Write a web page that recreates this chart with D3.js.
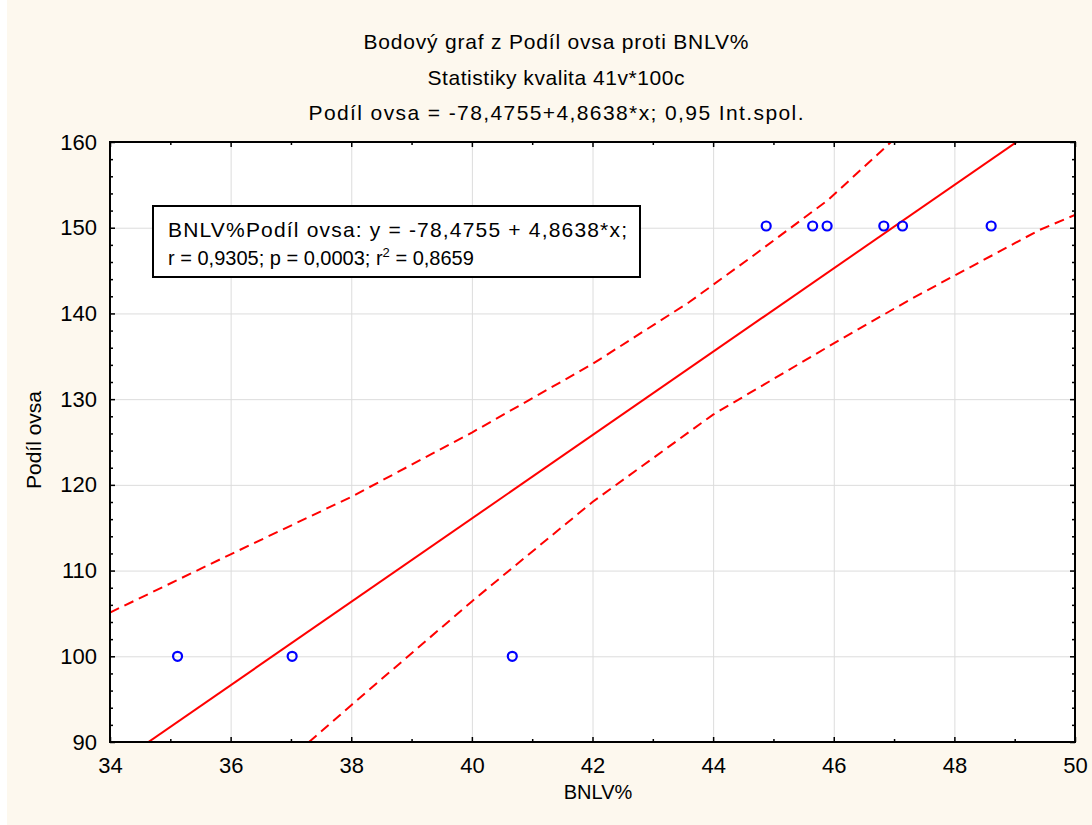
<!DOCTYPE html>
<html>
<meta charset="utf-8">
<head>
<title>Bodový graf z Podíl ovsa proti BNLV%</title>
<script src="https://cdn.jsdelivr.net/npm/d3@7/dist/d3.min.js"></script>
<style>
body { margin: 0; background: #fff; }
text { font-family: "Liberation Sans", Arial, sans-serif; fill: #000; }
.grid line { stroke: #dcdcdc; stroke-width: 1; }
.grid path { display: none; }
.ax path { display: none; }
.ax line { stroke: #000; stroke-width: 1.5; }
</style>
</head>
<body>
<div id="graf"></div>
<script>
// body (x = BNLV%, y = Podíl ovsa)
var bnlv = [35.12, 37.02, 40.67, 44.88, 45.65, 45.89, 46.83, 47.14, 48.61];
var podilOvsa = [100, 100, 100, 150.2, 150.2, 150.2, 150.2, 150.2, 150.2];

// regresni primka y = a + b*x
var koef = [-78.4755, 4.8638];

// 0,95 interval spolehlivosti
var horniX = [34, 36, 38, 40, 42, 43.6, 44.6, 45.9, 46.95];
var horniY = [105.1, 111.9, 118.6, 126.1, 134.1, 141.3, 146.4, 153.2, 160];
var dolniX = [37.3, 38, 40, 40.6, 42, 44, 46, 47.26, 48, 49.4, 50];
var dolniY = [90, 94.3, 106.4, 109.9, 118.0, 128.2, 136.5, 141.6, 144.4, 149.7, 151.5];

var xTicks = [34, 36, 38, 40, 42, 44, 46, 48, 50];
var yTicks = [90, 100, 110, 120, 130, 140, 150, 160];
var xMinor = [35, 37, 39, 41, 43, 45, 47, 49];
var yMinor = [92, 94, 96, 98, 102, 104, 106, 108, 112, 114, 116, 118, 122, 124, 126, 128,
              132, 134, 136, 138, 142, 144, 146, 148, 152, 154, 156, 158];

var nadpis = ["Bodový graf z Podíl ovsa proti BNLV%",
              "Statistiky kvalita 41v*100c",
              "Podíl ovsa = -78,4755+4,8638*x; 0,95 Int.spol."];
var nadpisSirka = [385, 257, 495];
var legenda = ["BNLV%Podíl ovsa:   y = -78,4755 + 4,8638*x;", "r = 0,9305; p = 0,0003; r", "2", " = 0,8659"];

var W = 1092, H = 825;
var margin = {top: 142, right: 17, bottom: 83, left: 110},
    width = W - margin.left - margin.right,
    height = H - margin.top - margin.bottom;

var svg = d3.select("#graf").append("svg")
    .attr("width", W)
    .attr("height", H);

// pozadi
svg.append("rect").attr("x", 7).attr("y", 0).attr("width", W - 7).attr("height", H).attr("fill", "#fdf8ee");

var g = svg.append("g")
    .attr("transform", "translate(" + margin.left + "," + margin.top + ")");

var x = d3.scaleLinear().domain([34, 50]).range([0, width]);
var y = d3.scaleLinear().domain([90, 160]).range([height, 0]);

g.append("rect").attr("width", width).attr("height", height).attr("fill", "#fff");

g.append("clipPath").attr("id", "clip")
  .append("rect").attr("width", width).attr("height", height);

// mrizka
g.append("g").attr("class", "grid")
    .attr("transform", "translate(0," + height + ")")
    .call(d3.axisBottom(x).tickValues(xTicks.slice(1, -1)).tickSize(-height).tickFormat(""));
g.append("g").attr("class", "grid")
    .call(d3.axisLeft(y).tickValues(yTicks.slice(1, -1)).tickSize(-width).tickFormat(""));

var plocha = g.append("g").attr("clip-path", "url(#clip)");

// interval spolehlivosti
var cara = d3.line().x(function(d) { return x(d[0]); }).y(function(d) { return y(d[1]); });
[[horniX, horniY], [dolniX, dolniY]].forEach(function(p) {
  plocha.append("path")
      .datum(p[0].map(function(v, i) { return [v, p[1][i]]; }))
      .attr("fill", "none")
      .attr("stroke", "#ff0000")
      .attr("stroke-width", 2)
      .attr("stroke-dasharray", "10,6")
      .attr("d", cara);
});

// regresni primka
plocha.append("path")
    .datum(x.domain().map(function(v) { return [v, koef[0] + koef[1] * v]; }))
    .attr("fill", "none")
    .attr("stroke", "#ff0000")
    .attr("stroke-width", 2)
    .attr("d", cara);

// body
g.selectAll(".bod")
    .data(bnlv)
  .enter().append("circle")
    .attr("class", "bod")
    .attr("cx", function(d) { return x(d); })
    .attr("cy", function(d, i) { return y(podilOvsa[i]); })
    .attr("r", 4.5)
    .attr("fill", "none")
    .attr("stroke", "#0000ff")
    .attr("stroke-width", 2.2);

// osy
var fs = 21;
var osaX = g.append("g").attr("class", "ax")
    .attr("transform", "translate(0," + height + ")")
    .call(d3.axisBottom(x).tickValues(xTicks).tickSize(-5).tickPadding(15).tickFormat(d3.format("d")));
osaX.selectAll("text").style("font-size", "22px");
g.append("g").attr("class", "ax")
    .attr("transform", "translate(0," + height + ")")
    .call(d3.axisBottom(x).tickValues(xMinor).tickSize(-3).tickFormat(""));
g.append("g").attr("class", "ax")
    .call(d3.axisTop(x).tickValues(xTicks).tickSize(-5).tickFormat(""));
g.append("g").attr("class", "ax")
    .call(d3.axisTop(x).tickValues(xMinor).tickSize(-3).tickFormat(""));

var osaY = g.append("g").attr("class", "ax")
    .call(d3.axisLeft(y).tickValues(yTicks).tickSize(-5).tickPadding(13).tickFormat(d3.format("d")));
osaY.selectAll("text").style("font-size", "22px");
g.append("g").attr("class", "ax")
    .call(d3.axisLeft(y).tickValues(yMinor).tickSize(-3).tickFormat(""));
g.append("g").attr("class", "ax")
    .attr("transform", "translate(" + width + ",0)")
    .call(d3.axisRight(y).tickValues(yTicks).tickSize(-5).tickFormat(""));
g.append("g").attr("class", "ax")
    .attr("transform", "translate(" + width + ",0)")
    .call(d3.axisRight(y).tickValues(yMinor).tickSize(-3).tickFormat(""));

// ramecek
g.append("rect").attr("width", width).attr("height", height)
    .attr("fill", "none").attr("stroke", "#000").attr("stroke-width", 2);

// nadpis
svg.selectAll(".nadpis")
    .data(nadpis)
  .enter().append("text")
    .attr("class", "nadpis")
    .attr("x", 556)
    .attr("y", function(d, i) { return 49 + i * 35.5; })
    .attr("text-anchor", "middle")
    .attr("textLength", function(d, i) { return nadpisSirka[i]; })
    .attr("lengthAdjust", "spacing")
    .style("font-size", fs + "px")
    .text(function(d) { return d; });

// popisky os
svg.append("text")
    .attr("x", 598).attr("y", 799)
    .attr("text-anchor", "middle")
    .style("font-size", "20px")
    .text("BNLV%");
svg.append("text")
    .attr("transform", "translate(41,440) rotate(-90)")
    .attr("text-anchor", "middle")
    .style("font-size", fs + "px")
    .text("Podíl ovsa");

// legenda
g.append("rect")
    .attr("x", 153 - margin.left).attr("y", 206 - margin.top)
    .attr("width", 487).attr("height", 71)
    .attr("fill", "#fff").attr("stroke", "#000").attr("stroke-width", 2);
g.append("text")
    .attr("x", 168 - margin.left).attr("y", 237 - margin.top)
    .attr("textLength", 459)
    .attr("lengthAdjust", "spacing")
    .style("font-size", fs + "px")
    .text(legenda[0]);
var l2 = g.append("text")
    .attr("x", 168 - margin.left).attr("y", 265 - margin.top)
    .style("font-size", "20px");
l2.append("tspan").text(legenda[1]);
l2.append("tspan").attr("dy", -8).style("font-size", "13px").text(legenda[2]);
l2.append("tspan").attr("dy", 8).text(legenda[3]);
</script>
</body>
</html>
